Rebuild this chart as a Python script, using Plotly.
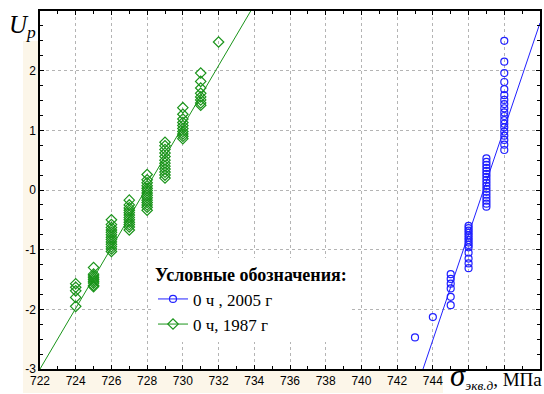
import plotly.graph_objects as go

# ---- data ----
# 1987 (green diamonds): x = stress level, values = U_p at that level
green_levels = [724, 725, 726, 727, 728, 729, 730, 731, 732]
green_up = [
    [-1.57, -1.63, -1.69, -1.80, -1.95],
    [-1.30, -1.41, -1.44, -1.47, -1.50, -1.53, -1.56, -1.60, -1.62],
    [-0.50, -0.58, -0.63, -0.67, -0.71, -0.75, -0.79, -0.83, -0.87, -0.91, -0.95, -0.99, -1.03],
    [-0.17, -0.25, -0.30, -0.34, -0.38, -0.42, -0.46, -0.50, -0.54, -0.58, -0.62, -0.67],
    [0.26, 0.17, 0.12, 0.07, 0.03, -0.01, -0.05, -0.09, -0.13, -0.17, -0.21, -0.25, -0.29, -0.34],
    [0.80, 0.74, 0.68, 0.62, 0.56, 0.50, 0.45, 0.40, 0.35, 0.30, 0.25, 0.20],
    [1.38, 1.27, 1.19, 1.13, 1.08, 1.03, 0.98, 0.94, 0.90, 0.86],
    [1.96, 1.82, 1.71, 1.62, 1.56, 1.51, 1.46, 1.42],
    [2.48],
]
green_fit_x = [722.0, 733.8]
green_fit_y = [-3.0, 3.0]

# 2005 (blue circles)
blue_levels = [743, 744, 745, 746, 747, 748]
blue_up = [
    [-2.47],
    [-2.13],
    [-1.41, -1.49, -1.57, -1.65, -1.79, -1.93],
    [-0.60, -0.64, -0.68, -0.72, -0.76, -0.80, -0.84, -0.88, -0.92, -0.96, -1.05, -1.15, -1.23, -1.31],
    [0.53, 0.47, 0.42, 0.37, 0.32, 0.27, 0.22, 0.17, 0.12, 0.07, 0.02, -0.03, -0.08, -0.13, -0.18, -0.23, -0.28],
    [2.50, 2.15, 1.96, 1.81, 1.69, 1.59, 1.51, 1.44, 1.37, 1.30, 1.24, 1.17, 1.11, 1.05, 0.98, 0.91, 0.84, 0.76, 0.67],
]
blue_fit_x = [743.45, 750.0]
blue_fit_y = [-3.0, 2.8]

x_tick_vals = [722, 724, 726, 728, 730, 732, 734, 736, 738, 740, 742, 744, 746, 748, 750]
x_tick_text = ["722", "724", "726", "728", "730", "732", "734", "736", "738", "740", "742", "744", "", "", ""]
y_tick_vals = [-3, -2, -1, 0, 1, 2, 3]
y_tick_text = ["-3", "-2", "-1", "0", "1", "2", ""]

legend_title = "Условные обозначения:"
blue_name = "0 ч , 2005 г"
green_name = "0 ч, 1987 г"

GREEN = "#1a941a"
BLUE = "#2020ff"


def flatten(levels, groups):
    xs, ys = [], []
    for lv, vals in zip(levels, groups):
        for v in vals:
            xs.append(lv)
            ys.append(v)
    return xs, ys


gx, gy = flatten(green_levels, green_up)
bx, by = flatten(blue_levels, blue_up)

fig = go.Figure()

# fit lines
fig.add_trace(go.Scatter(x=blue_fit_x, y=blue_fit_y, mode="lines",
                         line=dict(color=BLUE, width=1), showlegend=False, hoverinfo="skip"))
fig.add_trace(go.Scatter(x=green_fit_x, y=green_fit_y, mode="lines",
                         line=dict(color=GREEN, width=1), showlegend=False, hoverinfo="skip"))
# points
fig.add_trace(go.Scatter(x=bx, y=by, mode="markers", showlegend=False,
                         marker=dict(symbol="circle-open", size=7, color=BLUE, line=dict(width=1.2))))
fig.add_trace(go.Scatter(x=gx, y=gy, mode="markers", showlegend=False,
                         marker=dict(symbol="diamond-open", size=8, color=GREEN, line=dict(width=1.2))))
# legend entries
fig.add_trace(go.Scatter(x=[None], y=[None], mode="lines+markers", name=blue_name,
                         line=dict(color=BLUE, width=1),
                         marker=dict(symbol="circle-open", size=7, color=BLUE, line=dict(width=1.2))))
fig.add_trace(go.Scatter(x=[None], y=[None], mode="lines+markers", name=green_name,
                         line=dict(color=GREEN, width=1),
                         marker=dict(symbol="diamond-open", size=8, color=GREEN, line=dict(width=1.2))))

axis_common = dict(
    showline=True, linecolor="black", linewidth=1.5, mirror="allticks",
    ticks="inside", ticklen=4, tickcolor="black",
    showgrid=True, gridcolor="#b4b4b4", griddash="dot", gridwidth=1,
    zeroline=False, automargin=False,
    tickfont=dict(family="Liberation Sans, Arial, sans-serif", size=12, color="black"),
)

fig.update_xaxes(range=[722, 750], tickmode="array", tickvals=x_tick_vals, ticktext=x_tick_text,
                 minor=dict(dtick=1, ticks="inside", ticklen=3, tickcolor="black", showgrid=False),
                 **axis_common)
fig.update_yaxes(range=[-3, 3], tickmode="array", tickvals=y_tick_vals, ticktext=y_tick_text,
                 minor=dict(dtick=0.25, ticks="inside", ticklen=3, tickcolor="black", showgrid=False),
                 **axis_common)

PW, PH = 500, 358  # plot area in px
L, T = 40, 11      # plot area top-left in page px
FW, FH = 544, 394


def px2paper_x(px):
    return (px - L) / PW


def px2paper_y(py):
    return (T + PH - py) / PH


cream = "#fcf6e9"
fig.update_layout(
    width=FW, height=FH,
    margin=dict(l=L, r=FW - L - PW, t=T, b=FH - T - PH),
    paper_bgcolor="white", plot_bgcolor="white",
    font=dict(family="Liberation Serif, Times New Roman, serif", color="black"),
    legend=dict(
        title=dict(text="<b>" + legend_title + "</b>",
                   font=dict(family="Liberation Serif, serif", size=18, color="black"),
                   side="top"),
        font=dict(family="Liberation Serif, serif", size=17, color="black"),
        x=px2paper_x(153), y=px2paper_y(258), xanchor="left", yanchor="top",
        bgcolor="white", borderwidth=0, itemwidth=30, tracegroupgap=2,
    ),
    shapes=[
        dict(type="rect", xref="paper", yref="paper", layer="below",
             x0=px2paper_x(23), x1=0, y0=px2paper_y(393), y1=px2paper_y(41),
             fillcolor=cream, line=dict(width=0)),
        dict(type="rect", xref="paper", yref="paper", layer="below",
             x0=px2paper_x(23), x1=px2paper_x(443), y0=px2paper_y(393), y1=0,
             fillcolor=cream, line=dict(width=0)),
    ],
    annotations=[
        dict(text="<i>U<sub>p</sub></i>", xref="paper", yref="paper",
             x=px2paper_x(38), y=px2paper_y(9), xanchor="right", yanchor="top",
             showarrow=False, font=dict(family="Liberation Serif, serif", size=25, color="black")),
        dict(text="<i><span style='font-size:31px'>σ</span><sub>экв.д</sub></i>, МПа",
             xref="paper", yref="paper",
             x=px2paper_x(544), y=px2paper_y(395), xanchor="right", yanchor="bottom",
             showarrow=False, font=dict(family="Liberation Serif, serif", size=19, color="black")),
    ],
)

fig.write_html(
    "out.html",
    config={"displayModeBar": False},
    post_script="document.body.style.margin='0';document.body.style.overflow='hidden';",
)
